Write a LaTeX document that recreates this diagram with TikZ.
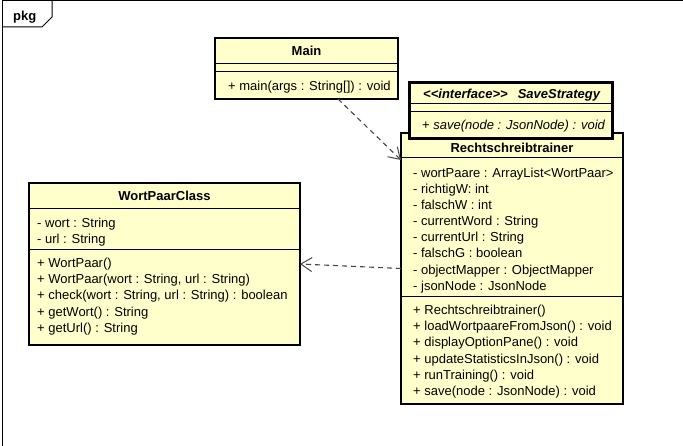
\documentclass[tikz,border=0pt]{standalone}
\usepackage{fontspec}
\setmainfont{Liberation Sans}
\usetikzlibrary{arrows.meta}
\definecolor{classfill}{RGB}{255,255,204}
\definecolor{depline}{RGB}{70,70,70}
\begin{document}
\begin{tikzpicture}[x=1pt,y=-1pt,
  every node/.style={font=\fontsize{13}{15}\selectfont},
  classbox/.style={draw=black, line width=2pt, fill=classfill, rectangle,
    anchor=north west, inner sep=0pt, outer sep=0pt},
  selbox/.style={classbox, line width=3pt},
  sepline/.style={line width=1pt},
  member/.style={anchor=base west, inner sep=0pt},
  ctitle/.style={anchor=base, inner sep=0pt, font=\fontsize{13}{15}\selectfont\bfseries},
  dep/.style={draw=depline, line width=1.1pt, dash pattern=on 5pt off 4pt,
    -{Straight Barb[length=11pt,width=14pt,line width=1pt]}},
  frameline/.style={line width=1pt}
]
\useasboundingbox (0,0) rectangle (683,446);

% package frame with its name tab
\draw[frameline] (683,1) -- (2.5,1) -- (2.5,446);
\draw[frameline] (52,1) -- (52,17) -- (42,27) -- (2.5,27);
\node[anchor=base west, inner sep=0pt, font=\fontsize{13}{15}\selectfont\bfseries] (pkg) at (13,20.5) {pkg};

% class WortPaarClass
\node[classbox, minimum width=271pt, minimum height=162pt] (wp) at (29,183) {};
\node[ctitle] (wptitle) at (164.5,201) {WortPaarClass};
\draw[sepline] (29,209) -- (300,209);
\draw[sepline] (29,250) -- (300,250);
\foreach \t [count=\i] in {{- wort : String},{- url : String}}
  \node[member] (wpa\i) at (37,{227.5+16*(\i-1)}) {\t};
\foreach \t [count=\i] in {{+ WortPaar()},{+ WortPaar(wort : String, url : String)},
    {+ check(wort : String, url : String) : boolean},{+ getWort() : String},{+ getUrl() : String}}
  \node[member] (wpm\i) at (37,{267.5+16.2*(\i-1)}) {\t};

% class Main
\node[classbox, minimum width=183pt, minimum height=61pt] (main) at (215,38) {};
\node[ctitle] (maintitle) at (306.5,56) {Main};
\draw[sepline] (215,64) -- (398,64);
\draw[sepline] (215,72) -- (398,72);
\node[member] (mainm1) at (228,91) {+ main(args : String[]) : void};

% class Rechtschreibtrainer
\node[classbox, minimum width=222pt, minimum height=271pt] (rt) at (401,133) {};
\node[ctitle] (rttitle) at (512,152.3) {Rechtschreibtrainer};
\draw[sepline] (401,158) -- (623,158);
\draw[sepline] (401,297) -- (623,297);
\foreach \t [count=\i] in {{- wortPaare : ArrayList<WortPaar>},{- richtigW: int},{- falschW : int},
    {- currentWord : String},{- currentUrl : String},{- falschG : boolean},
    {- objectMapper : ObjectMapper},{- jsonNode : JsonNode}}
  \node[member] (rta\i) at (413,{177.5+16.1*(\i-1)}) {\t};
\foreach \t [count=\i] in {{+ Rechtschreibtrainer()},{+ loadWortpaareFromJson() : void},
    {+ displayOptionPane() : void},{+ updateStatisticsInJson() : void},
    {+ runTraining() : void},{+ save(node : JsonNode) : void}}
  \node[member] (rtm\i) at (413,{314.5+16.2*(\i-1)}) {\t};

% interface SaveStrategy, drawn over the class below it
\node[selbox, minimum width=203pt, minimum height=56pt] (ss) at (409,83) {};
\node[anchor=base west, inner sep=0pt, font=\fontsize{13}{15}\selectfont\bfseries\itshape]
  (sstitle) at (423,98.3) {<{}<interface>{}>\hspace{10pt}SaveStrategy};
\draw[sepline] (409,104) -- (612,104);
\draw[sepline] (409,112) -- (612,112);
\node[member] (ssm1) at (422,130) {+ \textit{save(node : JsonNode) : void}};

% dependencies
\draw[dep] ([xshift=31.5pt]main.south) -- ([yshift=108.5pt]rt.west);
\draw[dep] (rt.west) -- (wp.east);
\end{tikzpicture}
\end{document}
